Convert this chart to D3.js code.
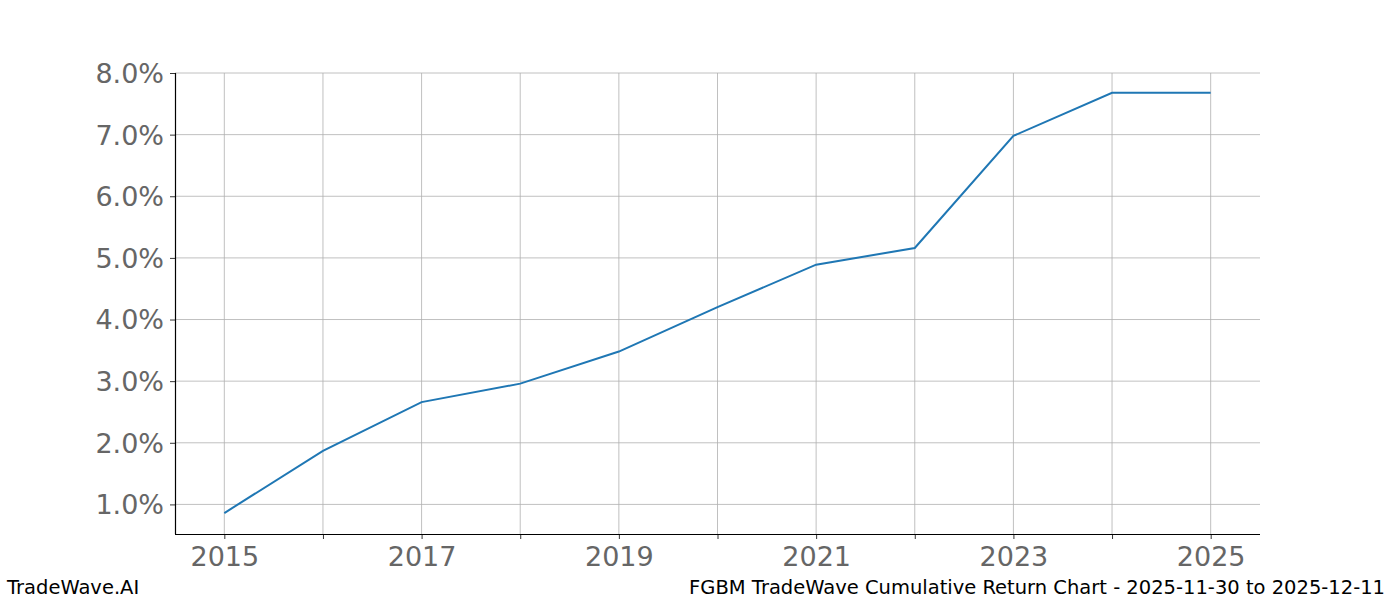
<!DOCTYPE html>
<html>
<head>
<meta charset="utf-8">
<script src="https://cdn.jsdelivr.net/npm/d3@7"></script>
<style>
  body { margin: 0; background: #fff; }
  svg { font-family: "DejaVu Sans", sans-serif; }
</style>
</head>
<body>
<section></section>
<script>
const years = [2015, 2016, 2017, 2018, 2019, 2020, 2021, 2022, 2023, 2024, 2025];
const returns = [0.86, 1.87, 2.66, 2.96, 3.48, 4.20, 4.89, 5.16, 6.98, 7.68, 7.68];
const yTicks = [1, 2, 3, 4, 5, 6, 7, 8];
const xTicks = [2015, 2016, 2017, 2018, 2019, 2020, 2021, 2022, 2023, 2024, 2025];
const xLabels = [2015, 2017, 2019, 2021, 2023, 2025];
const footerLeft = "TradeWave.AI";
const footerRight = "FGBM TradeWave Cumulative Return Chart - 2025-11-30 to 2025-12-11";

const WIDTH = 1400;
const HEIGHT = 600;
const LEFT = 175, RIGHT = 1260, TOP = 73, BOTTOM = 534;

const svg = d3.select("section")
  .append("svg")
  .attr("width", WIDTH)
  .attr("height", HEIGHT);

const xScale = d3.scaleLinear().domain([2014.5, 2025.5]).range([LEFT, RIGHT]);
const yScale = d3.scaleLinear().domain([0.52, 8.0]).range([BOTTOM, TOP]);

// grid lines
svg.append("g")
  .selectAll("line")
  .data(xTicks)
  .enter()
  .append("line")
  .attr("x1", d => xScale(d)).attr("x2", d => xScale(d))
  .attr("y1", TOP).attr("y2", BOTTOM)
  .attr("stroke", "#b0b0b0").attr("stroke-width", 0.8);

svg.append("g")
  .selectAll("line")
  .data(yTicks)
  .enter()
  .append("line")
  .attr("x1", LEFT).attr("x2", RIGHT)
  .attr("y1", d => yScale(d)).attr("y2", d => yScale(d))
  .attr("stroke", "#b0b0b0").attr("stroke-width", 0.8);

// axes
const xAxis = d3.axisBottom(xScale)
  .tickValues(xTicks)
  .tickSize(5)
  .tickPadding(8)
  .tickFormat(d => xLabels.includes(d) ? d : "");
const yAxis = d3.axisLeft(yScale)
  .tickValues(yTicks)
  .tickSize(5)
  .tickPadding(6)
  .tickFormat(d => d.toFixed(1) + "%");

const gx = svg.append("g")
  .attr("transform", "translate(0," + BOTTOM + ")")
  .call(xAxis);
const gy = svg.append("g")
  .attr("transform", "translate(" + LEFT + ",0)")
  .call(yAxis);

[gx, gy].forEach(g => {
  g.select(".domain").attr("stroke", "#000").attr("stroke-width", 1.2)
    .attr("d", g === gx ? "M" + LEFT + ",0.5H" + RIGHT : "M0.5," + TOP + "V" + BOTTOM);
  g.selectAll(".tick line").attr("stroke", "#000").attr("stroke-width", 0.8);
  g.selectAll(".tick text")
    .attr("fill", "#666")
    .attr("font-size", "27px")
    .attr("font-family", "DejaVu Sans, sans-serif");
});
gy.selectAll(".tick text").attr("dy", "0.35em");

// line
const line = d3.line()
  .x((d, i) => xScale(years[i]))
  .y(d => yScale(d));

svg.append("path")
  .datum(returns)
  .attr("d", line)
  .attr("fill", "none")
  .attr("stroke", "#1f77b4")
  .attr("stroke-width", 2);

// footer
svg.append("text")
  .attr("x", 7).attr("y", 594)
  .attr("font-size", "19.5px")
  .attr("fill", "#000")
  .text(footerLeft);
svg.append("text")
  .attr("x", 1385).attr("y", 594)
  .attr("text-anchor", "end")
  .attr("font-size", "19.5px")
  .attr("fill", "#000")
  .text(footerRight);
</script>
</body>
</html>
